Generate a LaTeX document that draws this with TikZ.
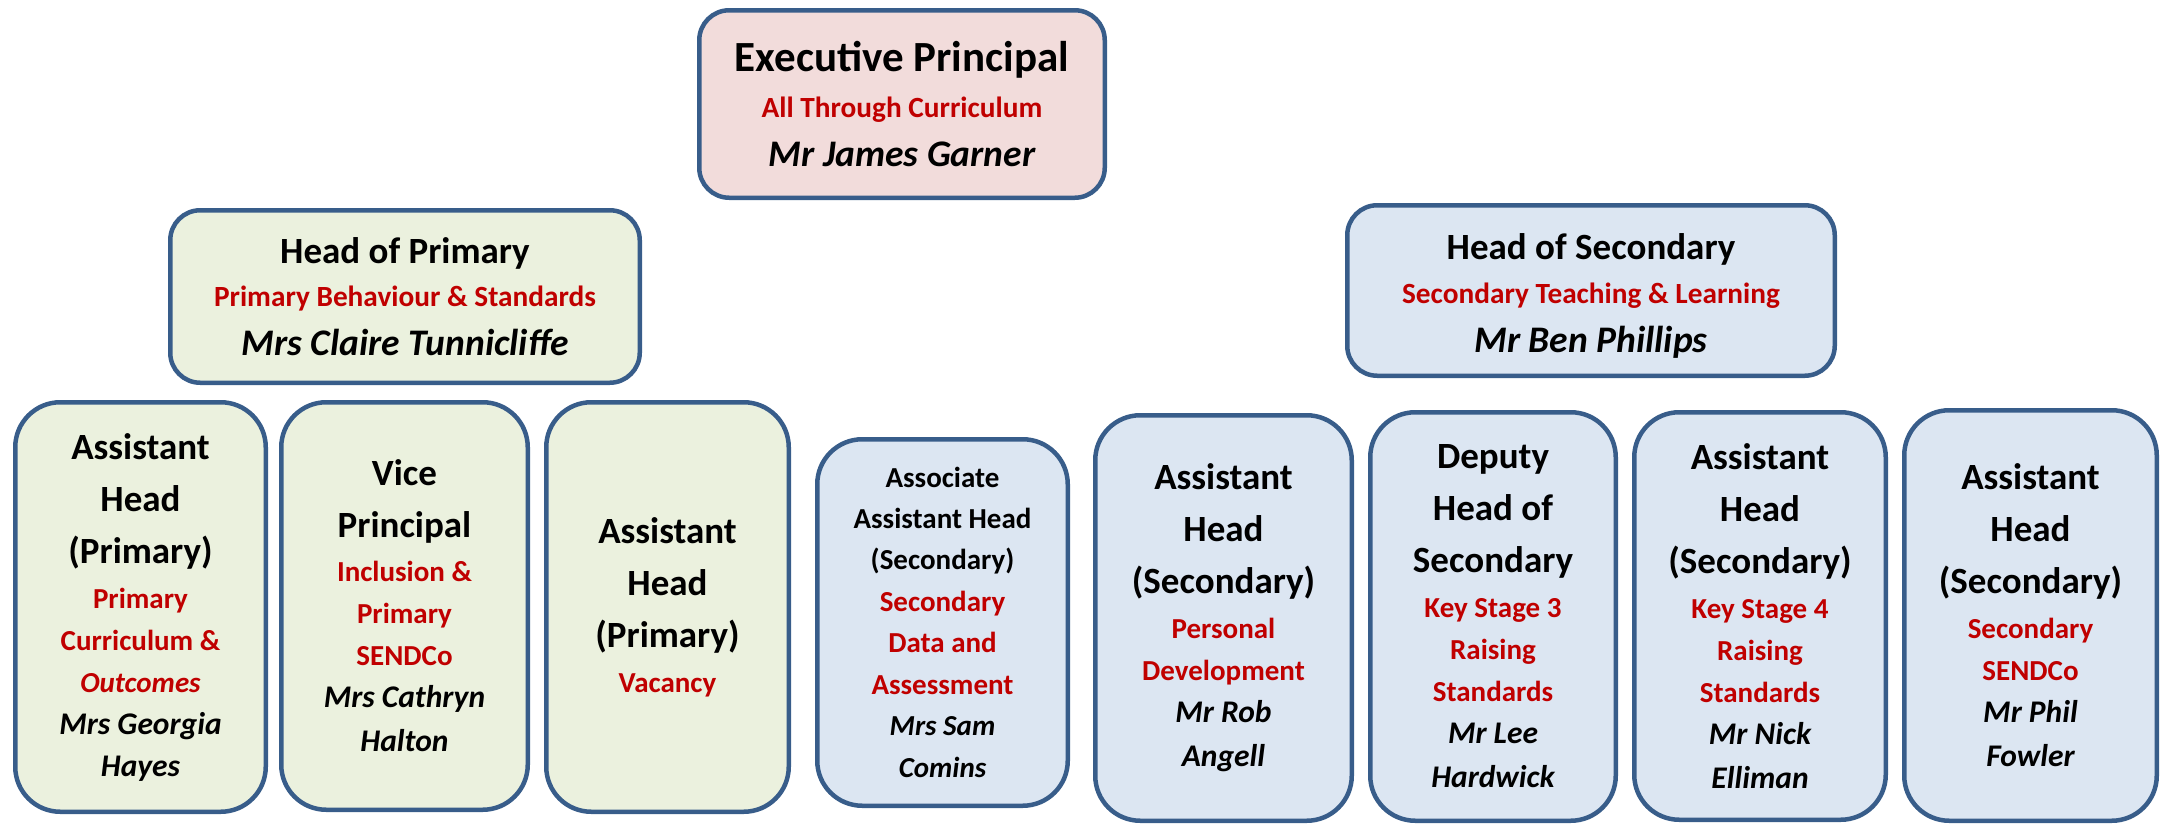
\documentclass[tikz,border=0pt]{standalone}
\usepackage{fontspec}
\setmainfont{Carlito}
\definecolor{bordercol}{HTML}{385D8A}
\definecolor{pinkfill}{HTML}{F2DCDB}
\definecolor{greenfill}{HTML}{EBF1DE}
\definecolor{bluefill}{HTML}{DCE6F2}
\definecolor{redtxt}{HTML}{C00000}
\newcommand\Ttl[1]{{\fontsize{37}{37}\selectfont #1}}
\newcommand\Rd[1]{{\color{redtxt}\fontsize{29}{29}\selectfont #1}}
\newcommand\Rdi[1]{{\color{redtxt}\itshape\fontsize{29}{29}\selectfont #1}}
\newcommand\Nm[1]{{\itshape\fontsize{31.5}{31.5}\selectfont #1}}
\newcommand\Sm[1]{{\fontsize{29}{29}\selectfont #1}}
\newcommand\Smr[1]{{\color{redtxt}\fontsize{29}{29}\selectfont #1}}
\newcommand\Smi[1]{{\itshape\fontsize{29}{29}\selectfont #1}}
\newcommand\TopT[1]{{\fontsize{37}{37}\selectfont #1}}
\newcommand\TopR[1]{{\color{redtxt}\fontsize{29.3}{29.3}\selectfont #1}}
\newcommand\TopN[1]{{\itshape\fontsize{37.5}{37.5}\selectfont #1}}
\tikzset{
  box/.style={draw=bordercol, line width=4.5pt, rounded corners=#1, align=center,
    inner sep=0pt, font=\bfseries\fontsize{28}{42}\selectfont},
  box/.default=45pt,
  topbox/.style={box=30pt},
  boxtext/.style={align=center, inner sep=0pt},
}
\begin{document}
\begin{tikzpicture}[x=1pt,y=-1pt]
\useasboundingbox (0,0) rectangle (2161,823);
% top level
\node[topbox, fill=pinkfill, minimum width=405.5pt, minimum height=187.5pt,
  font=\bfseries\fontsize{28}{46}\selectfont] (exec) at (902,104)
  {{\fontsize{43}{43}\selectfont Executive Principal}\\\TopR{All Through Curriculum}\\[3pt]\TopN{Mr James Garner}};
\node[topbox, fill=greenfill, minimum width=469.5pt, minimum height=172.5pt,
  font=\bfseries\fontsize{28}{43}\selectfont] (hop) at (405,296.5)
  {\TopT{Head of Primary}\\\TopR{Primary Behaviour \& Standards}\\[6pt]\TopN{Mrs Claire Tunnicliffe}};
\node[topbox, fill=bluefill, minimum width=487.5pt, minimum height=170.5pt] (hos) at (1591,290.5) {};
\node[boxtext, font=\bfseries\fontsize{28}{44}\selectfont] (hostext) at ([yshift=-5pt]hos.center)
  {\TopT{Head of Secondary}\\\TopR{Secondary Teaching \& Learning}\\[5pt]\TopN{Mr Ben Phillips}};
% primary row
\node[box, fill=greenfill, minimum width=250.5pt, minimum height=409.5pt] (p1) at (140.5,607)
  {\Ttl{Assistant}\\[10pt]\Ttl{Head}\\[10pt]\Ttl{(Primary)}\\[3pt]\Rd{Primary}\\\Rd{Curriculum \&}\\\Rdi{Outcomes}\\\Nm{Mrs Georgia}\\\Nm{Hayes}};
\node[box, fill=greenfill, minimum width=246.5pt, minimum height=407.5pt] (p2) at (404.5,606)
  {\Ttl{Vice}\\[10pt]\Ttl{Principal}\\[2pt]\Rd{Inclusion \&}\\\Rd{Primary}\\\Rd{SENDCo}\\\Nm{Mrs Cathryn}\\[2pt]\Nm{Halton}};
\node[box, fill=greenfill, minimum width=242.5pt, minimum height=409.5pt] (p3) at (667.5,607)
  {\Ttl{Assistant}\\[10pt]\Ttl{Head}\\[10pt]\Ttl{(Primary)}\\[3pt]\Rd{Vacancy}};
% secondary row
\node[box, fill=bluefill, minimum width=250.5pt, minimum height=366.5pt,
  font=\bfseries\fontsize{28}{41.5}\selectfont] (s1) at (942.5,622.5)
  {\Sm{Associate}\\[-1pt]\Sm{Assistant Head}\\\Sm{(Secondary)}\\\Smr{Secondary}\\\Smr{Data and}\\\Smr{Assessment}\\\Smi{Mrs Sam}\\\Smi{Comins}};
\node[box, fill=bluefill, minimum width=256.5pt, minimum height=405.5pt] (s2) at (1223.5,618)
  {\Ttl{Assistant}\\[10pt]\Ttl{Head}\\[10pt]\Ttl{(Secondary)}\\[3pt]\Rd{Personal}\\\Rd{Development}\\\Nm{Mr Rob}\\[2pt]\Nm{Angell}};
\node[box, fill=bluefill, minimum width=245.5pt, minimum height=408.5pt] (s3) at (1493,616.5)
  {\Ttl{Deputy}\\[10pt]\Ttl{Head of}\\[10pt]\Ttl{Secondary}\\[3pt]\Rd{Key Stage 3}\\\Rd{Raising}\\\Rd{Standards}\\\Nm{Mr Lee}\\[2pt]\Nm{Hardwick}};
\node[box, fill=bluefill, minimum width=251.5pt, minimum height=407.5pt] (s4) at (1760,616)
  {\Ttl{Assistant}\\[10pt]\Ttl{Head}\\[10pt]\Ttl{(Secondary)}\\[3pt]\Rd{Key Stage 4}\\\Rd{Raising}\\\Rd{Standards}\\\Nm{Mr Nick}\\[2pt]\Nm{Elliman}};
\node[box, fill=bluefill, minimum width=252.5pt, minimum height=410.5pt] (s5) at (2030.5,615.5)
  {\Ttl{Assistant}\\[10pt]\Ttl{Head}\\[10pt]\Ttl{(Secondary)}\\[3pt]\Rd{Secondary}\\\Rd{SENDCo}\\\Nm{Mr Phil}\\[2pt]\Nm{Fowler}};
\end{tikzpicture}
\end{document}
